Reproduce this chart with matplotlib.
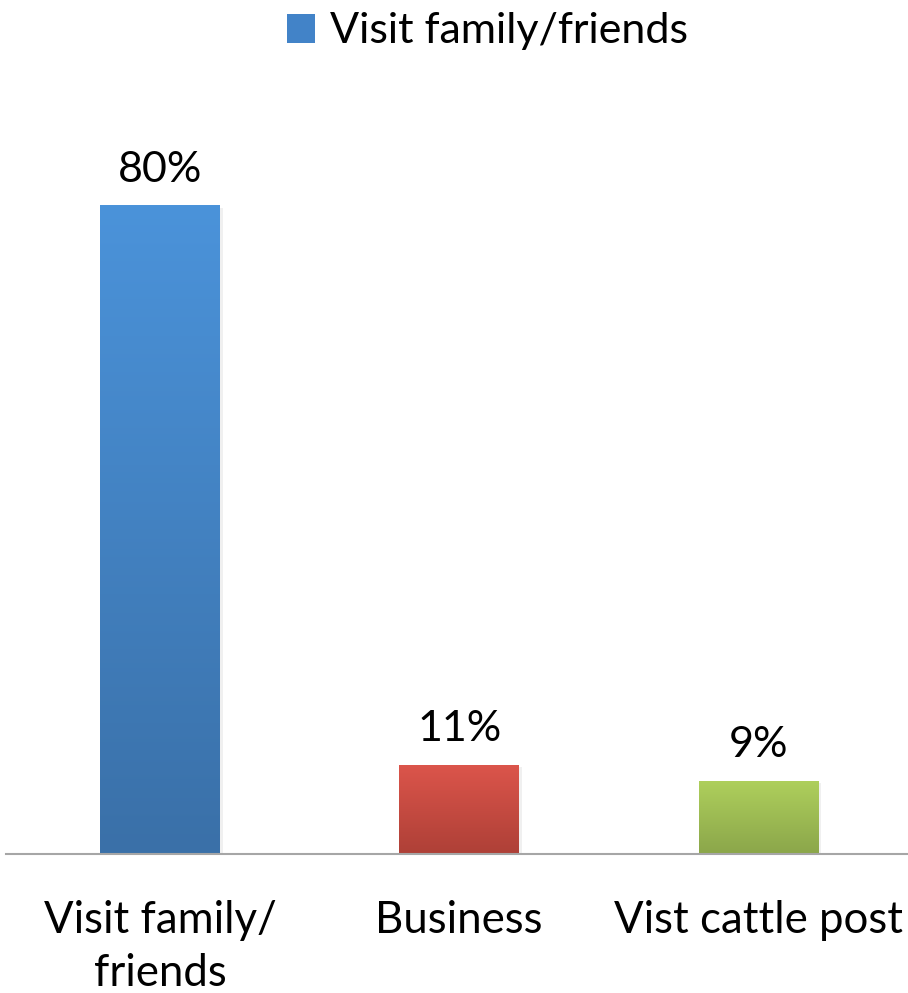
import numpy as np
import matplotlib
matplotlib.use("Agg")
import matplotlib.pyplot as plt
from matplotlib.patches import Patch
from matplotlib.colors import LinearSegmentedColormap

# Reasons for travel (share of respondents)
categories = ["Visit family/\nfriends", "Business", "Vist cattle post"]
shares = [80, 11, 9]
labels = ["80%", "11%", "9%"]
legend_label = "Visit family/friends"

# top / bottom colours of each bar's vertical gradient
bar_colors = [("#4B93DA", "#3A70A8"),
              ("#DC554B", "#AE4037"),
              ("#AECF5C", "#8BA64A")]

plt.rcParams["font.family"] = ["Lato", "DejaVu Sans"]

fig = plt.figure(figsize=(9.08, 9.93), dpi=100)
ax = fig.add_axes([6 / 908, (993 - 854) / 993, 902 / 908, 730 / 993])

x = np.arange(len(categories))
bars = ax.bar(x, shares, width=0.4, color="none", edgecolor="none", zorder=2)

grad = np.linspace(1, 0, 256).reshape(-1, 1)
for bar, (top, bottom) in zip(bars, bar_colors):
    cmap = LinearSegmentedColormap.from_list("g", [bottom, top])
    x0, y0 = bar.get_x(), bar.get_y()
    w, h = bar.get_width(), bar.get_height()
    # soft shadow on the right
    ax.add_patch(plt.Rectangle((x0 + 0.01, y0), w, h - 0.3, color="#000000",
                               alpha=0.06, lw=0, zorder=1))
    im = ax.imshow(grad, extent=(x0, x0 + w, y0, y0 + h), aspect="auto",
                   cmap=cmap, vmin=0, vmax=1, zorder=2)
    im.set_clip_path(bar)

for xi, val, lab in zip(x, shares, labels):
    ax.annotate(lab, (xi, val), xytext=(0, 17), textcoords="offset points",
                ha="center", va="baseline", fontsize=31, color="#000000")

ax.set_xlim(-0.515, 2.5)
ax.set_ylim(0, 90)
ax.set_yticks([])
ax.set_xticks(x)
ax.set_xticklabels(categories, fontsize=31.5, linespacing=1.36)
ax.tick_params(axis="x", length=0, pad=33)
for side in ["top", "right", "left"]:
    ax.spines[side].set_visible(False)
ax.spines["bottom"].set_color("#A6A6A6")
ax.spines["bottom"].set_linewidth(1.5)

handle = Patch(facecolor="#4283C8", edgecolor="none")
fig.legend([handle], [legend_label], loc="upper center",
           bbox_to_anchor=(0.537, 0.992), frameon=False, fontsize=31,
           handlelength=0.66, handleheight=0.66, handletextpad=0.35,
           borderaxespad=0.0, borderpad=0.1)

fig.savefig("out.png", dpi=100, facecolor="white")
